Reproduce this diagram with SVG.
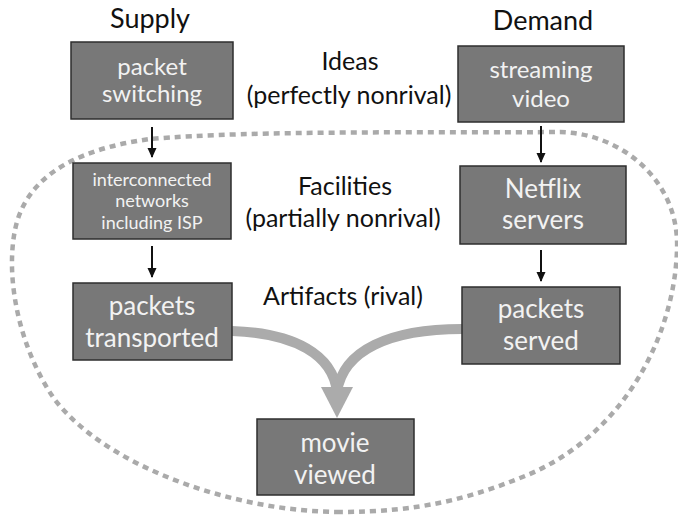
<svg xmlns="http://www.w3.org/2000/svg" width="678" height="522" viewBox="0 0 678 522">
<defs>
<style>
.box{fill:#787878;stroke:#2e2e2e;stroke-width:1.5}
.bt{fill:#f2f2f2;font-family:Lato,"Open Sans",sans-serif;text-anchor:middle}
.lbl{fill:#111;font-family:Lato,"Open Sans",sans-serif;text-anchor:middle}
.thin{stroke:#111;stroke-width:2;fill:none}
.thick{stroke:#ababab;stroke-width:10;fill:none}
</style>
<marker id="ah" viewBox="0 0 10 10" refX="9" refY="5" markerWidth="10" markerHeight="10" orient="auto" markerUnits="userSpaceOnUse">
<path d="M0,0.5 L10,5 L0,9.5 Z" fill="#111"/>
</marker>
</defs>
<rect width="678" height="522" fill="#fff"/>
<g id="cloud">
<path d="M340,512 C240,512 110,470 55,400 C20,350 5,280 15,230 C25,180 70,150 150,139 C250,130 450,133 560,132 C620,133 680,180 677,250 C674,340 620,440 520,478 C470,498 420,512 340,512 Z" fill="none" stroke="#aaa" stroke-width="4.5" stroke-dasharray="6,5"/>
</g>
<g id="labels">
<text class="lbl" x="150" y="28" font-size="27">Supply</text>
<text class="lbl" x="543" y="30" font-size="27">Demand</text>
<text class="lbl" x="350" y="70" font-size="25">Ideas</text>
<text class="lbl" x="349" y="104" font-size="25">(perfectly nonrival)</text>
<text class="lbl" x="345" y="195" font-size="25">Facilities</text>
<text class="lbl" x="343" y="227" font-size="25">(partially nonrival)</text>
<text class="lbl" x="343" y="305" font-size="25">Artifacts (rival)</text>
</g>
<g id="connectors">
<path class="thin" d="M152,127 L152,157" marker-end="url(#ah)"/>
<path class="thin" d="M152,246 L152,277" marker-end="url(#ah)"/>
<path class="thin" d="M541,126 L541,162" marker-end="url(#ah)"/>
<path class="thin" d="M541,250 L541,281" marker-end="url(#ah)"/>
<path class="thick" d="M232,331 C295,333 333,355 337,392"/>
<path class="thick" d="M462,329 C390,329 343,350 337,392"/>
<polygon points="321,387 353,387 337,418" fill="#ababab"/>
</g>
<g id="n-packet-switching">
<rect class="box" x="71" y="42" width="162" height="77"/>
<text class="bt" x="152" y="75" font-size="24">packet</text>
<text class="bt" x="152" y="102" font-size="24">switching</text>
</g>
<g id="n-streaming-video">
<rect class="box" x="458" y="46" width="166" height="76"/>
<text class="bt" x="541" y="78" font-size="24">streaming</text>
<text class="bt" x="541" y="107" font-size="24">video</text>
</g>
<g id="n-networks">
<rect class="box" x="73" y="163" width="158" height="76"/>
<text class="bt" x="152" y="186" font-size="18">interconnected</text>
<text class="bt" x="152" y="207" font-size="18">networks</text>
<text class="bt" x="152" y="229" font-size="18">including ISP</text>
</g>
<g id="n-netflix">
<rect class="box" x="460" y="166" width="166" height="78"/>
<text class="bt" x="543" y="198" font-size="26">Netflix</text>
<text class="bt" x="543" y="229" font-size="26">servers</text>
</g>
<g id="n-packets-transported">
<rect class="box" x="73" y="283" width="159" height="77"/>
<text class="bt" x="152" y="315" font-size="26">packets</text>
<text class="bt" x="152" y="347" font-size="26">transported</text>
</g>
<g id="n-packets-served">
<rect class="box" x="462" y="287" width="158" height="77"/>
<text class="bt" x="541" y="318" font-size="26">packets</text>
<text class="bt" x="541" y="350" font-size="26">served</text>
</g>
<g id="n-movie-viewed">
<rect class="box" x="257" y="419" width="157" height="76"/>
<text class="bt" x="335" y="452" font-size="26">movie</text>
<text class="bt" x="335" y="484" font-size="26">viewed</text>
</g>
</svg>
